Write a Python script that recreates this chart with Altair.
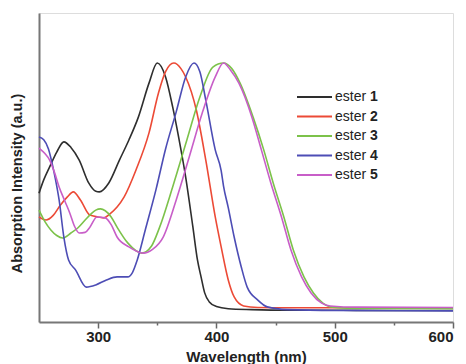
import altair as alt
import pandas as pd

series = ["1", "2", "3", "4", "5"]
colors = ["#2e2e2e", "#ec4a36", "#7cc24a", "#4d4db5", "#c85ec8"]

wl1 = [250, 254, 259, 265, 271, 277, 284, 292, 298, 301, 309, 318, 326, 334, 343, 350, 357, 363, 368, 374, 380, 384, 387, 390, 394, 400, 410, 430, 460, 500, 550, 600]
ab1 = [0.417, 0.46, 0.502, 0.55, 0.583, 0.565, 0.524, 0.450, 0.423, 0.421, 0.450, 0.524, 0.589, 0.663, 0.773, 0.838, 0.793, 0.696, 0.599, 0.469, 0.31, 0.20, 0.146, 0.095, 0.065, 0.05, 0.043, 0.040, 0.038, 0.038, 0.037, 0.037]

wl2 = [250, 256, 262, 268, 274, 279, 285, 293, 300, 305, 310, 316, 322, 332, 343, 351, 357, 364, 370, 374, 383, 391, 399, 404, 410, 415, 423, 435, 460, 500, 600]
ab2 = [0.340, 0.330, 0.345, 0.378, 0.405, 0.421, 0.395, 0.346, 0.340, 0.337, 0.350, 0.372, 0.405, 0.492, 0.612, 0.741, 0.81, 0.838, 0.82, 0.793, 0.686, 0.524, 0.340, 0.243, 0.136, 0.081, 0.052, 0.047, 0.046, 0.046, 0.045]

wl3 = [250, 255, 260, 265, 270, 277, 283, 289, 294, 298, 302, 306, 311, 316, 325, 337, 345, 352, 363, 375, 386, 397, 406, 413, 420, 431, 440, 448, 457, 465, 474, 482, 490, 496, 510, 550, 600]
ab3 = [0.362, 0.325, 0.298, 0.28, 0.272, 0.288, 0.305, 0.330, 0.350, 0.362, 0.366, 0.360, 0.340, 0.307, 0.256, 0.223, 0.245, 0.307, 0.437, 0.589, 0.728, 0.825, 0.838, 0.82, 0.773, 0.663, 0.557, 0.450, 0.340, 0.233, 0.146, 0.094, 0.061, 0.049, 0.045, 0.044, 0.043]

wl4 = [250, 254, 258, 261, 264, 267, 271, 275, 281, 290, 298, 307, 316, 325, 329, 333, 340, 349, 357, 366, 374, 381, 386, 391, 399, 404, 406, 410, 415, 421, 426, 435, 443, 460, 500, 600]
ab4 = [0.599, 0.590, 0.560, 0.515, 0.46, 0.395, 0.275, 0.201, 0.168, 0.113, 0.120, 0.136, 0.146, 0.146, 0.16, 0.20, 0.30, 0.43, 0.56, 0.68, 0.793, 0.838, 0.81, 0.718, 0.557, 0.49, 0.44, 0.37, 0.275, 0.178, 0.113, 0.071, 0.049, 0.040, 0.037, 0.036]

wl5 = [250, 255, 259, 263, 267, 272, 276, 280, 284, 289, 293, 299, 306, 311, 316, 326, 338, 346, 355, 366, 377, 388, 399, 406, 412, 419, 430, 438, 446, 455, 463, 472, 480, 489, 496, 520, 600]
ab5 = [0.563, 0.545, 0.524, 0.485, 0.437, 0.39, 0.353, 0.31, 0.288, 0.29, 0.307, 0.340, 0.337, 0.315, 0.275, 0.243, 0.223, 0.235, 0.275, 0.395, 0.534, 0.676, 0.793, 0.838, 0.815, 0.773, 0.663, 0.557, 0.450, 0.340, 0.233, 0.146, 0.094, 0.061, 0.052, 0.048, 0.047]

x_ticks = [300, 350, 400, 450, 500, 550, 600]

rows = []
for s, wl, ab in zip(series, [wl1, wl2, wl3, wl4, wl5], [ab1, ab2, ab3, ab4, ab5]):
    for i, (w, a) in enumerate(zip(wl, ab)):
        rows.append({"series": s, "wl": w, "ab": a, "order": i})
df = pd.DataFrame(rows)
leg = pd.DataFrame({"series": series, "word": ["ester"] * 5})

FONT = "Liberation Sans"
color = alt.Color("series:N", scale=alt.Scale(domain=series, range=colors), legend=None)

lines = alt.Chart(df).mark_line(strokeWidth=1.6, interpolate="monotone").encode(
    x=alt.X("wl:Q", scale=alt.Scale(domain=[250, 600], nice=False, zero=False),
            axis=alt.Axis(title="Wavelength (nm)", values=x_ticks,
                          labelExpr="datum.value % 100 === 0 ? datum.label : ''",
                          tickSize={"condition": {"test": "datum.value % 100 === 0", "value": 6}, "value": 3},
                          tickColor="#666", tickWidth=1.5, domainColor="#777", domainWidth=2,
                          labelFont=FONT, labelFontSize=15, labelFontWeight="bold", labelColor="#222",
                          labelPadding=1, grid=False,
                          titleFont=FONT, titleFontSize=15, titleFontWeight="bold", titleColor="#222",
                          titlePadding=0, titleY=27, titleBaseline="top")),
    y=alt.Y("ab:Q", scale=alt.Scale(domain=[0, 1], nice=False),
            axis=alt.Axis(title="Absorption Intensity (a.u.)", labels=False, ticks=False,
                          domainColor="#777", domainWidth=2, grid=False,
                          titleFont=FONT, titleFontSize=14.5, titleFontWeight="bold", titleColor="#222",
                          titleX=-22, titleY=170, titleAngle=-90, titleBaseline="middle")),
    color=color,
    detail="series:N",
    order="order:Q",
)

ly = alt.Y("series:N", scale=alt.Scale(type="point", domain=series, range=[84, 162], padding=0), axis=None)

leg_lines = alt.Chart(leg).mark_rule(strokeWidth=2).encode(
    x=alt.value(258), x2=alt.value(293), y=ly, color=color)
leg_word = alt.Chart(leg).mark_text(align="left", baseline="middle", font=FONT, fontSize=14, color="#222").encode(
    x=alt.value(296), y=ly, text="word:N")
leg_num = alt.Chart(leg).mark_text(align="left", baseline="middle", font=FONT, fontSize=14,
                                    fontWeight="bold", color="#222").encode(
    x=alt.value(331), y=ly, text="series:N")

chart = alt.layer(lines, leg_lines, leg_word, leg_num).resolve_scale(y="independent").properties(
    width=414, height=309,
    autosize=alt.AutoSizeParams(type="none"),
    padding={"left": 31, "top": 5, "right": 5, "bottom": 42},
).configure_view(stroke=None).configure(background="white")

chart.save("out.html", embed_options={"renderer": "svg", "actions": False})
